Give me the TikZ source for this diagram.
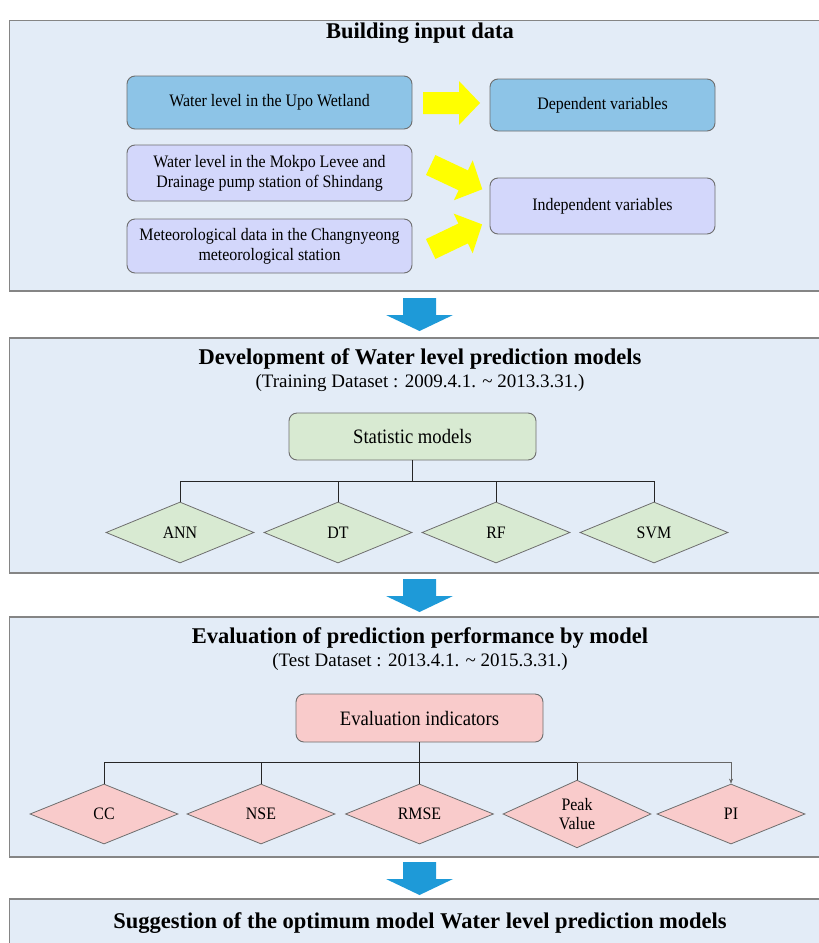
\documentclass[tikz,border=0pt]{standalone}
\usepackage{fontspec}
\setmainfont{Liberation Serif}
\newfontfamily\condfont[FakeStretch=0.91]{Liberation Serif}
\usetikzlibrary{shapes.geometric,arrows.meta}
\definecolor{panelfill}{HTML}{E3ECF7}
\definecolor{panelline}{HTML}{858585}
\definecolor{boxline}{HTML}{6E6E6E}
\definecolor{blueA}{HTML}{8DC4E7}
\definecolor{lav}{HTML}{D3D7FB}
\definecolor{greenA}{HTML}{D8EAD2}
\definecolor{pinkA}{HTML}{F9CBCB}
\definecolor{arrblue}{HTML}{1E9AD8}
\definecolor{yel}{HTML}{FFFF00}
\tikzset{
  panel/.style={draw=panelline, fill=panelfill, line width=1.1pt},
  ptitle/.style={anchor=base, font=\fontsize{22.5}{26}\selectfont\bfseries, inner sep=0pt},
  psub/.style={anchor=base, font=\fontsize{19}{22}\selectfont, inner sep=0pt},
  rbox/.style={draw=boxline, line width=0.9pt, rounded corners=8pt, inner sep=0pt, align=center,
    font=\condfont\fontsize{17.5}{20}\selectfont},
  dia/.style={diamond, draw=boxline, line width=0.8pt, inner sep=0pt, minimum width=148pt,
    minimum height=61pt, align=center, font=\condfont\fontsize{17.5}{19}\selectfont},
  conn/.style={draw=black!85, line width=0.9pt},
  yarrow/.style={fill=yel, draw=none},
  barrow/.style={fill=arrblue, draw=none}
}
\begin{document}
\begin{tikzpicture}[x=1pt,y=-1pt]
\useasboundingbox (0,0) rectangle (819,943);
\clip (0,0) rectangle (819,943);
% panels
\draw[panel] (9.5,20.5) rectangle (840,291);
\draw[panel] (9.5,338) rectangle (840,573);
\draw[panel] (9.5,617) rectangle (840,857);
\draw[panel] (9.5,899) rectangle (840,970);
% titles
\node[ptitle] (t1) at (420,38) {Building input data};
\node[ptitle] (t2) at (420,364) {Development of Water level prediction models};
\node[psub] (s2) at (420,387) {(Training Dataset : 2009.4.1. \textasciitilde\ 2013.3.31.)};
\node[ptitle] (t3) at (420,643) {Evaluation of prediction performance by model};
\node[psub] (s3) at (420,666) {(Test Dataset : 2013.4.1. \textasciitilde\ 2015.3.31.)};
\node[ptitle] (t4) at (420,928) {Suggestion of the optimum model Water level prediction models};
% panel 1 boxes
\node[rbox, fill=blueA, minimum width=285pt, minimum height=53pt] (upo) at (269.5,102.5) {Water level in the Upo Wetland};
\node[rbox, fill=blueA, minimum width=225pt, minimum height=52pt] (dep) at (602.5,105) {Dependent variables};
\node[rbox, fill=lav, minimum width=285pt, minimum height=56pt] (mok) at (269.5,173) {Water level in the Mokpo Levee and\\Drainage pump station of Shindang};
\node[rbox, fill=lav, minimum width=285pt, minimum height=54pt] (met) at (269.5,246) {Meteorological data in the Changnyeong\\meteorological station};
\node[rbox, fill=lav, minimum width=225pt, minimum height=56pt] (ind) at (602.5,206) {Independent variables};
% yellow arrows
\begin{scope}[shift={(423,103)}]
\fill[yarrow] (0,-11) -- (36,-11) -- (36,-22) -- (57,0) -- (36,22) -- (36,11) -- (0,11) -- cycle;
\end{scope}
\begin{scope}[shift={(430.7,165)}, rotate=-25.2]
\fill[yarrow] (0,-11) -- (36,-11) -- (36,-22) -- (57,0) -- (36,22) -- (36,11) -- (0,11) -- cycle;
\end{scope}
\begin{scope}[shift={(430.7,249)}, rotate=25.6]
\fill[yarrow] (0,-11) -- (36,-11) -- (36,-22) -- (57,0) -- (36,22) -- (36,11) -- (0,11) -- cycle;
\end{scope}
% blue arrows
\foreach \yy in {298,579,862}{
  \fill[barrow] (403,\yy) -- (436,\yy) -- (436,\yy+17) -- (453,\yy+17) -- (419.5,\yy+33) -- (386,\yy+17) -- (403,\yy+17) -- cycle;
}
% panel 2
\node[rbox, fill=greenA, minimum width=247pt, minimum height=47pt, font=\condfont\fontsize{20.5}{22}\selectfont] (stat) at (412.5,436.5) {Statistic models};
\node[dia, fill=greenA] (ann) at (180,532.5) {ANN};
\node[dia, fill=greenA] (dt) at (338,532.5) {DT};
\node[dia, fill=greenA] (rf) at (496,532.5) {RF};
\node[dia, fill=greenA] (svm) at (654,532.5) {SVM};
\coordinate (j1) at (412.5,481);
\draw[conn] (stat.south) -- (j1);
\draw[conn] (ann.north) -- (ann.north |- j1) -- (svm.north |- j1) -- (svm.north);
\draw[conn] (dt.north) -- (dt.north |- j1);
\draw[conn] (rf.north) -- (rf.north |- j1);
% panel 3
\node[rbox, fill=pinkA, minimum width=247pt, minimum height=48pt, font=\condfont\fontsize{20.5}{22}\selectfont] (ev) at (419.5,718) {Evaluation indicators};
\node[dia, fill=pinkA, minimum height=60pt] (cc) at (104,814) {CC};
\node[dia, fill=pinkA, minimum height=60pt] (nse) at (261,814) {NSE};
\node[dia, fill=pinkA, minimum height=60pt] (rmse) at (419.5,814) {RMSE};
\node[dia, fill=pinkA, minimum height=60pt] (peak) at (577,814) {Peak\\Value};
\node[dia, fill=pinkA, minimum height=60pt] (pi) at (731,814) {PI};
\coordinate (j2) at (419.5,762);
\draw[conn] (ev.south) -- (j2);
\draw[conn] (cc.north) -- (cc.north |- j2) -- (peak.north |- j2) -- (peak.north);
\draw[conn] (nse.north) -- (nse.north |- j2);
\draw[conn] (rmse.north) -- (rmse.north |- j2);
\draw[draw=black!60, line width=0.5pt, -{Stealth[length=5pt,width=4pt]}] (peak.north |- j2) -- (pi.north |- j2) -- (pi.north);
\end{tikzpicture}
\end{document}
